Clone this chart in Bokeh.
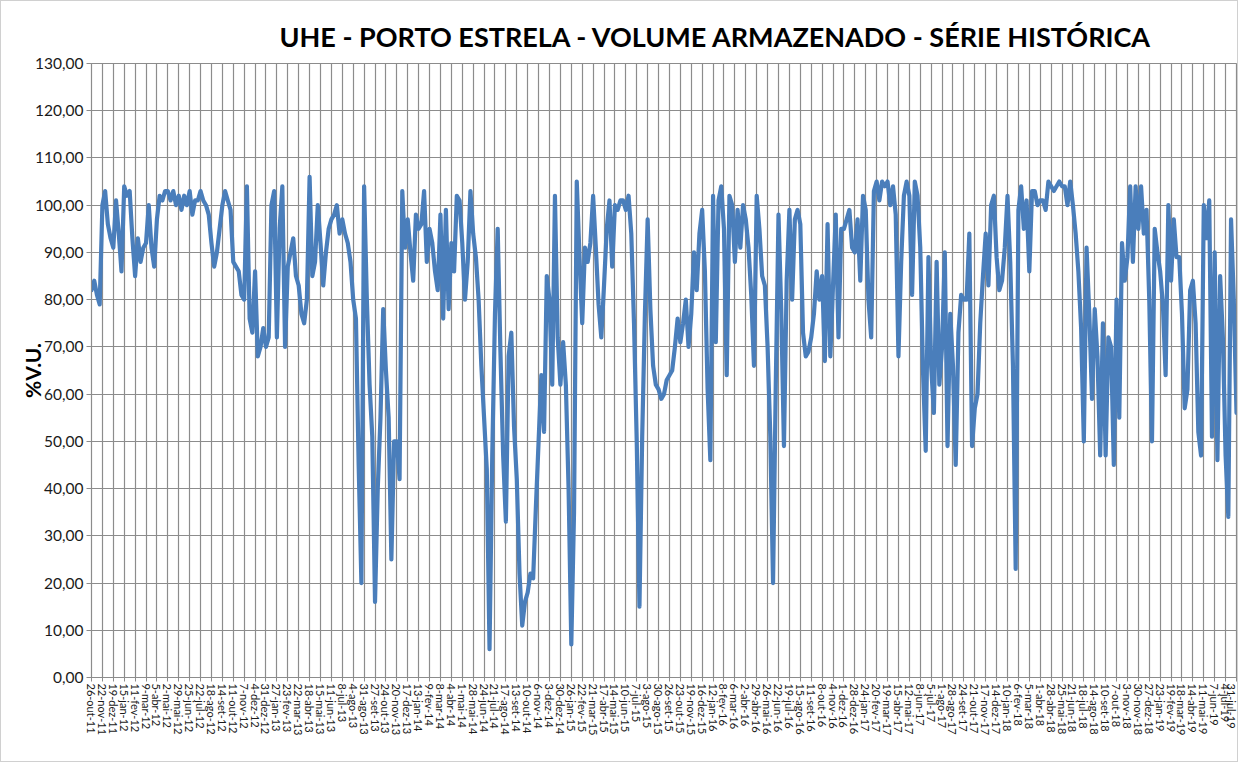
import math
import datetime
from bokeh.plotting import figure
from bokeh.models import Range1d, FixedTicker
from bokeh.embed import file_html
from bokeh.resources import INLINE

# ---------------- data ----------------
TITLE = "UHE - PORTO ESTRELA - VOLUME ARMAZENADO - SÉRIE HISTÓRICA"
Y_LABEL = "%V.U."
START_DATE = datetime.date(2011, 10, 26)
END_DATE = datetime.date(2019, 7, 31)
LABEL_STEP_DAYS = 27          # one category label every 27 days
SAMPLE_STEP_DAYS = 6.75       # 4 readings per label interval

month_abbr = ["jan", "fev", "mar", "abr", "mai", "jun",
              "jul", "ago", "set", "out", "nov", "dez"]

# stored volume (% of useful volume), 4 readings per 27-day label interval
volume_pct = [
    82, 84, 81, 79,  100, 103, 96, 93,  91, 101, 94, 86,  104, 102, 103, 93,
    85, 93, 88, 91,  92, 100, 91, 87,  97, 102, 101, 103,  103, 101, 103, 100,
    102, 99, 102, 100,  103, 98, 101, 101,  103, 101, 100, 98,  92, 87, 90, 95,
    100, 103, 101, 99,  88, 87, 86, 81,  80, 104, 76, 73,  86, 68, 70, 74,
    70, 72, 100, 103,  72, 95, 104, 70,  87, 90, 93, 85,  83, 77, 75, 80,
    106, 85, 88, 100,  92, 83, 90, 95,  97, 98, 100, 94,  97, 94, 92, 88,
    80, 76, 45, 20,  104, 80, 62, 51,  16, 40, 55, 78,  65, 55, 25, 50,
    50, 42, 103, 91,  97, 90, 84, 98,  95, 96, 103, 88,  95, 92, 86, 82,
    98, 76, 99, 78,  92, 86, 102, 101,  92, 80, 88, 103,  94, 89, 80, 66,
    55, 44, 6, 47,  77, 95, 69, 47,  33, 68, 73, 53,  42, 22, 11, 16,
    18, 22, 21, 36,  50, 64, 52, 85,  80, 62, 102, 72,  62, 71, 62, 40,
    7, 35, 105, 89,  75, 91, 88, 92,  102, 91, 79, 72,  83, 95, 101, 87,
    100, 99, 101, 101,  99, 102, 94, 75,  50, 15, 51, 77,  97, 78, 66, 62,
    61, 59, 60, 63,  64, 65, 70, 76,  71, 75, 80, 70,  77, 90, 82, 94,
    99, 86, 61, 46,  102, 71, 101, 104,  95, 64, 102, 100,  88, 99, 91, 100,
    97, 91, 81, 66,  102, 95, 85, 83,  70, 51, 20, 62,  98, 78, 49, 84,
    99, 80, 97, 99,  96, 73, 68, 69,  72, 77, 86, 80,  85, 67, 96, 68,
    83, 98, 72, 95,  95, 97, 99, 91,  90, 97, 84, 102,  99, 80, 72, 103,
    105, 101, 105, 104,  105, 100, 104, 98,  68, 88, 102, 105,  102, 81, 105, 102,
    91, 65, 48, 89,  66, 56, 88, 62,  70, 90, 49, 77,  66, 45, 73, 81,
    80, 80, 94, 49,  57, 60, 75, 85,  94, 83, 100, 102,  89, 82, 84, 91,
    102, 88, 66, 23,  99, 104, 95, 101,  86, 103, 103, 100,  101, 101, 99, 105,
    104, 103, 104, 105,  104, 104, 100, 105,  100, 94, 86, 74,  50, 91, 77, 59,
    78, 68, 47, 75,  47, 72, 70, 45,  80, 55, 92, 84,  89, 104, 88, 104,
    95, 104, 94, 99,  80, 50, 95, 90,  86, 79, 64, 100,  84, 97, 89, 89,
    77, 57, 61, 82,  84, 75, 52, 47,  100, 93, 101, 51,  90, 46, 85, 72,
    47, 34, 97, 80,
    56,
]

y_ticks = [0, 10, 20, 30, 40, 50, 60, 70, 80, 90, 100, 110, 120, 130]
y_tick_labels = ["0,00", "10,00", "20,00", "30,00", "40,00", "50,00", "60,00",
                 "70,00", "80,00", "90,00", "100,00", "110,00", "120,00", "130,00"]

total_days = (END_DATE - START_DATE).days
x_ticks = list(range(0, total_days + 1, LABEL_STEP_DAYS))
x_tick_labels = []
for d in x_ticks:
    dt = START_DATE + datetime.timedelta(days=d)
    x_tick_labels.append(f"{dt.day}-{month_abbr[dt.month - 1]}-{dt.year % 100:02d}")

days = [i * SAMPLE_STEP_DAYS for i in range(len(volume_pct))]

# ---------------- figure ----------------
FONT = "Lato"
GRID = "#8c8c8c"

p = figure(width=1238, height=762, output_backend="svg", toolbar_location=None,
           x_range=Range1d(0, total_days), y_range=Range1d(0, 130),
           min_border_left=90, min_border_right=3, min_border_top=62,
           min_border_bottom=86, background_fill_color="white",
           border_fill_color="white")

p.title.text = TITLE
p.title.text_font = FONT
p.title.text_font_style = "bold"
p.title.text_font_size = "27px"
p.title.text_color = "#000000"
p.title.align = "left"
p.title.offset = 188
p.title.standoff = 21

p.line(days, volume_pct, line_width=4.2, line_color="#4a7ebb",
       line_join="round", line_cap="round")

# x axis
p.xaxis.ticker = FixedTicker(ticks=x_ticks)
p.xaxis.major_label_overrides = {t: lab for t, lab in zip(x_ticks, x_tick_labels)}
p.xaxis.major_label_orientation = -math.pi / 2
p.xaxis.major_label_text_font = FONT
p.xaxis.major_label_text_font_size = "11px"
p.xaxis.major_label_text_color = "#1a1a1a"
p.xaxis.major_label_standoff = 2
p.xaxis.major_tick_in = 4
p.xaxis.major_tick_out = 4
p.xaxis.minor_tick_line_color = None
p.xaxis.axis_line_color = GRID
p.xaxis.major_tick_line_color = GRID

# y axis
p.yaxis.ticker = FixedTicker(ticks=y_ticks)
p.yaxis.major_label_overrides = {t: lab for t, lab in zip(y_ticks, y_tick_labels)}
p.yaxis.major_label_text_font = FONT
p.yaxis.major_label_text_font_size = "15.5px"
p.yaxis.major_label_text_color = "#1a1a1a"
p.yaxis.major_label_standoff = 3
p.yaxis.major_tick_in = 0
p.yaxis.major_tick_out = 5
p.yaxis.minor_tick_line_color = None
p.yaxis.axis_line_color = GRID
p.yaxis.major_tick_line_color = GRID
p.yaxis.axis_label = Y_LABEL
p.yaxis.axis_label_text_font = FONT
p.yaxis.axis_label_text_font_style = "bold"
p.yaxis.axis_label_text_font_size = "21px"
p.yaxis.axis_label_text_color = "#000000"
p.yaxis.axis_label_standoff = -13

# grid
p.xgrid.ticker = FixedTicker(ticks=x_ticks)
p.ygrid.ticker = FixedTicker(ticks=y_ticks)
for g in (p.xgrid, p.ygrid):
    g.grid_line_color = GRID
    g.grid_line_width = 1.2
p.outline_line_color = GRID
p.outline_line_width = 1.2

p.styles = {"border": "1px solid #d0d0d0"}

open("out.html", "w").write(file_html(p, INLINE))
